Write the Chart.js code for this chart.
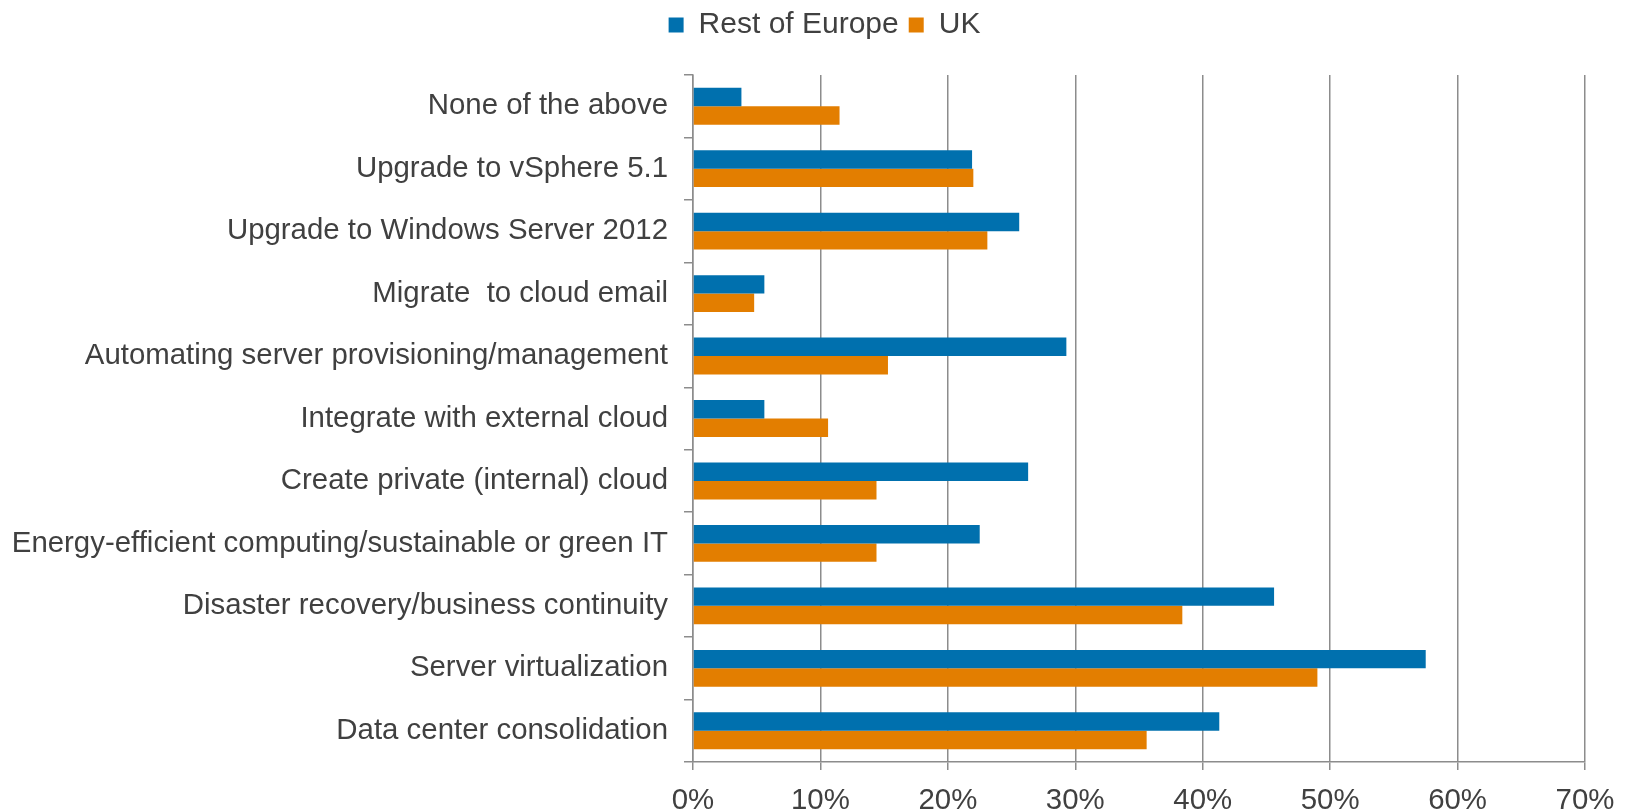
<!DOCTYPE html>
<html lang="en">
<head>
    <meta charset="utf-8">
    <title>Priorities chart</title>
    <script src="https://cdn.jsdelivr.net/npm/chart.js@4"></script>
    <style>
        html, body { margin: 0; padding: 0; background: #fff; }
        #wrap { width: 1636px; height: 812px; }
    </style>
</head>
<body>

<div id="wrap">
    <canvas id="barChart" width="1636" height="812"></canvas>
</div>

<script>

    const categories = [
        'None of the above',
        'Upgrade to vSphere 5.1',
        'Upgrade to Windows Server 2012',
        'Migrate  to cloud email',
        'Automating server provisioning/management',
        'Integrate with external cloud',
        'Create private (internal) cloud',
        'Energy-efficient computing/sustainable or green IT',
        'Disaster recovery/business continuity',
        'Server virtualization',
        'Data center consolidation'
    ];

    const restOfEurope = [3.8, 21.9, 25.6, 5.6, 29.3, 5.6, 26.3, 22.5, 45.6, 57.5, 41.3];
    const uk = [11.5, 22.0, 23.1, 4.8, 15.3, 10.6, 14.4, 14.4, 38.4, 49.0, 35.6];

    const xTicks = [0, 10, 20, 30, 40, 50, 60, 70];

    const textColor = '#404040';
    const gridColor = '#8c8c8c';
    const fontSize = 29.4;

    Chart.defaults.font.family = '"Liberation Sans", Arial, sans-serif';
    Chart.defaults.color = textColor;

    // extra room between legend and plot, and nudge legend to the right
    const legendSpacer = {
        id: 'legendSpacer',
        beforeInit(chart) {
            const fit = chart.legend.fit;
            chart.legend.fit = function () {
                fit.bind(chart.legend)();
                this.height += 25;
            };
        },
        afterLayout(chart) {
            chart.legend.left += 32;
            chart.legend.right += 32;
        }
    };

    new Chart(document.getElementById('barChart'), {
        type: 'bar',
        data: {
            labels: categories,
            datasets: [{
                label: 'Rest of Europe',
                data: restOfEurope,
                backgroundColor: '#0070ae'
            }, {
                label: 'UK',
                data: uk,
                backgroundColor: '#e37e00'
            }]
        },
        plugins: [legendSpacer],
        options: {
            indexAxis: 'y',
            responsive: false,
            animation: false,
            layout: {
                padding: {top: 0, right: 51, bottom: 0, left: 0}
            },
            datasets: {
                bar: {categoryPercentage: 0.59, barPercentage: 1.0}
            },
            plugins: {
                legend: {
                    position: 'top',
                    labels: {
                        font: {size: 30},
                        boxWidth: 15,
                        boxHeight: 15,
                        padding: 10
                    }
                },
                tooltip: {enabled: false}
            },
            scales: {
                x: {
                    min: 0,
                    max: 70,
                    afterBuildTicks: (axis) => {
                        axis.ticks = xTicks.map(v => ({value: v}));
                    },
                    afterFit: (axis) => {
                        axis.height = 50;
                    },
                    ticks: {
                        font: {size: fontSize},
                        padding: 13,
                        maxRotation: 0,
                        callback: (v) => v + '%'
                    },
                    grid: {
                        color: gridColor,
                        lineWidth: 1.5,
                        tickLength: 8
                    },
                    border: {color: gridColor, width: 1.5}
                },
                y: {
                    afterFit: (axis) => {
                        axis.width = 693;
                    },
                    ticks: {
                        font: {size: fontSize},
                        padding: 16,
                        autoSkip: false
                    },
                    grid: {
                        offset: true,
                        drawOnChartArea: false,
                        color: gridColor,
                        lineWidth: 1.5,
                        tickLength: 9
                    },
                    border: {color: gridColor, width: 1.5}
                }
            }
        }
    });

</script>

</body>
</html>
